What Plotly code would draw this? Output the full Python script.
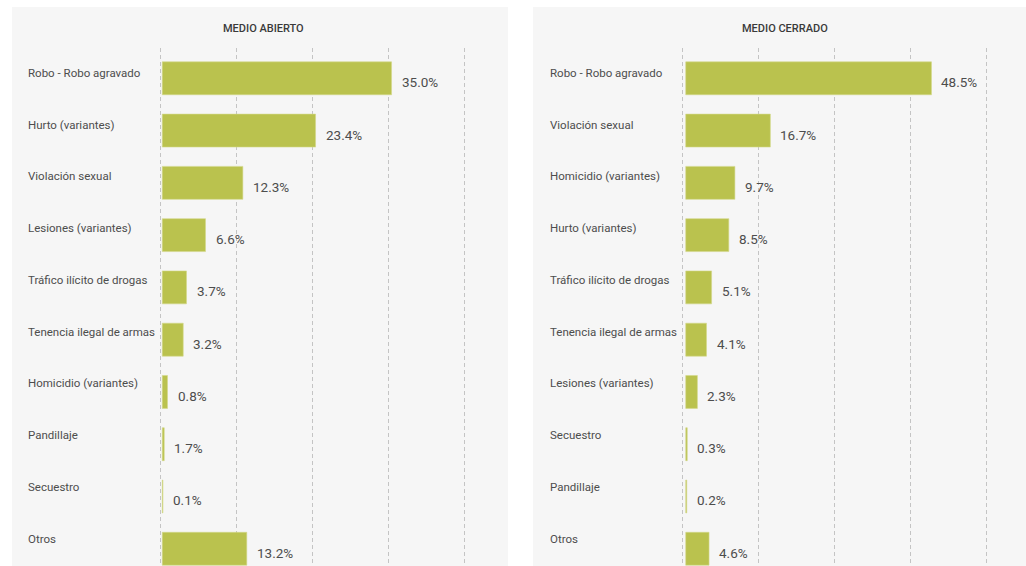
import plotly.graph_objects as go

# ---- data ----
cats_abierto = ["Robo - Robo agravado", "Hurto (variantes)", "Violación sexual",
                "Lesiones (variantes)", "Tráfico ilícito de drogas", "Tenencia ilegal de armas",
                "Homicidio (variantes)", "Pandillaje", "Secuestro", "Otros"]
vals_abierto = [35.0, 23.4, 12.3, 6.6, 3.7, 3.2, 0.8, 0.3, 0.1, 12.9]
labels_abierto = ["35.0%", "23.4%", "12.3%", "6.6%", "3.7%", "3.2%", "0.8%", "1.7%", "0.1%", "13.2%"]

cats_cerrado = ["Robo - Robo agravado", "Violación sexual", "Homicidio (variantes)",
                "Hurto (variantes)", "Tráfico ilícito de drogas", "Tenencia ilegal de armas",
                "Lesiones (variantes)", "Secuestro", "Pandillaje", "Otros"]
vals_cerrado = [48.5, 16.7, 9.7, 8.5, 5.1, 4.1, 2.3, 0.3, 0.2, 4.6]
labels_cerrado = ["48.5%", "16.7%", "9.7%", "8.5%", "5.1%", "4.1%", "2.3%", "0.3%", "0.2%", "4.6%"]

titles = ["MEDIO ABIERTO", "MEDIO CERRADO"]

# ---- layout constants ----
W, H = 1026, 566
BAR = "#bac24e"
PANEL = "#f6f6f6"
TXT = "#4d4d4d"
GRID = "#c4c4c4"
FONT = "Roboto"

def px(x):
    return x / W

def py(y):
    return 1 - y / H

fig = go.Figure()
fig.add_trace(go.Bar(x=vals_abierto, y=cats_abierto, orientation="h",
                     marker=dict(color=BAR, line=dict(color="#d3d88a", width=0.6)),
                     xaxis="x", yaxis="y", hoverinfo="x+y"))
fig.add_trace(go.Bar(x=vals_cerrado, y=cats_cerrado, orientation="h",
                     marker=dict(color=BAR, line=dict(color="#d3d88a", width=0.6)),
                     xaxis="x2", yaxis="y2", hoverinfo="x+y"))

# gridline spans (first to last dashed line) and slightly wider visible ranges
left_grid = [-0.24, 46.06]
right_grid = [-0.6, 59.4]
left_range = [-0.545, 46.365]
right_range = [-0.995, 59.795]
yrange = [9.33, -0.58]
ydom = [0, py(48)]

def quarter_ticks(r):
    return [r[0] + (r[1] - r[0]) * i / 4 for i in range(5)]

common_x = dict(showticklabels=False, showline=False, zeroline=False, ticks="",
                showgrid=True, gridcolor=GRID, griddash="4px,3px", gridwidth=1.3)
common_y = dict(type="category", showticklabels=False, showgrid=False, zeroline=False,
                showline=False, ticks="", range=yrange, fixedrange=True)

fig.update_layout(
    width=W, height=H,
    margin=dict(l=0, r=0, t=0, b=0),
    paper_bgcolor="white", plot_bgcolor="rgba(0,0,0,0)",
    showlegend=False, bargap=0.37,
    font=dict(family=FONT, color=TXT),
    xaxis=dict(domain=[px(158.7), px(466)], range=left_range,
               tickvals=quarter_ticks(left_grid), anchor="y", **common_x),
    xaxis2=dict(domain=[px(680.7), px(988.7)], range=right_range,
                tickvals=quarter_ticks(right_grid), anchor="y2", **common_x),
    yaxis=dict(domain=ydom, anchor="x", categoryorder="array",
               categoryarray=cats_abierto, **common_y),
    yaxis2=dict(domain=ydom, anchor="x2", categoryorder="array",
                categoryarray=cats_cerrado, **common_y),
)

shapes = [
    dict(type="rect", xref="paper", yref="paper", x0=px(12), x1=px(508), y0=0, y1=py(7),
         fillcolor=PANEL, line=dict(width=0), layer="below"),
    dict(type="rect", xref="paper", yref="paper", x0=px(533), x1=1, y0=0, y1=py(7),
         fillcolor=PANEL, line=dict(width=0), layer="below"),
]

annotations = []
panels = [
    (cats_abierto, vals_abierto, labels_abierto, "x", "y", 26, 263),
    (cats_cerrado, vals_cerrado, labels_cerrado, "x2", "y2", 548, 785),
]
for i, (cats, vals, labs, xr, yr, lx, tx) in enumerate(panels):
    annotations.append(dict(text=titles[i], xref="paper", yref="paper", x=px(tx), y=py(28),
                            xanchor="center", yanchor="middle", showarrow=False,
                            font=dict(family=FONT, size=11, color="#3a3a3a", weight=500)))
    for k, (c, v, l) in enumerate(zip(cats, vals, labs)):
        annotations.append(dict(text=c, xref="paper", yref=yr, x=px(lx), y=c,
                                xanchor="left", yanchor="middle", yshift=5.5 + 0.5 * k,
                                showarrow=False,
                                font=dict(family=FONT, size=11.5, color=TXT)))
        annotations.append(dict(text=l, xref=xr, yref=yr, x=v, y=c,
                                xanchor="left", yanchor="middle", xshift=8, yshift=-4,
                                showarrow=False,
                                font=dict(family=FONT, size=13.5, color=TXT)))

fig.update_layout(shapes=shapes, annotations=annotations)
fig.write_html("out.html", post_script="document.body.style.margin='0';",
               config={"displayModeBar": False})
